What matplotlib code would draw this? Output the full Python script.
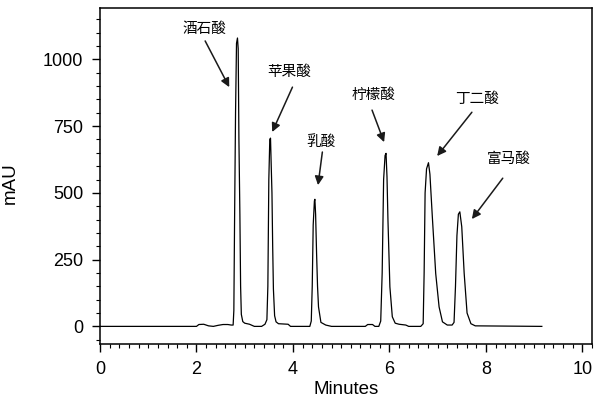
import matplotlib
matplotlib.use("Agg")
import matplotlib.pyplot as plt
from matplotlib.ticker import MultipleLocator

plt.rcParams['font.family'] = ['Liberation Sans', 'Noto Sans CJK SC', 'DejaVu Sans']

# chromatogram trace (minutes, mAU)
minutes = [0.0, 2.0, 2.05, 2.15, 2.25, 2.35, 2.45, 2.55, 2.65, 2.72,
           2.76, 2.775, 2.79, 2.81, 2.83, 2.85, 2.865, 2.88, 2.90, 2.915, 2.93, 2.96, 3.0,
           3.1, 3.2, 3.35, 3.42,
           3.46, 3.48, 3.50, 3.52, 3.535, 3.55, 3.565, 3.58, 3.595, 3.62, 3.65, 3.7,
           3.9, 3.95, 4.35,
           4.38, 4.40, 4.42, 4.445, 4.455, 4.47, 4.49, 4.51, 4.53, 4.58, 4.68, 4.8,
           5.5, 5.55, 5.65, 5.7, 5.78,
           5.82, 5.85, 5.88, 5.91, 5.93, 5.95, 5.97, 6.01, 6.06, 6.12, 6.2, 6.34, 6.4,
           6.65, 6.70, 6.72, 6.74, 6.77, 6.81, 6.84, 6.89, 6.96, 7.03, 7.10, 7.2, 7.3,
           7.34, 7.37, 7.40, 7.43, 7.46, 7.50, 7.55, 7.61, 7.69, 7.78, 9.16]
signal = [0, 0, 7, 8, 2, 0, 4, 7, 7, 5,
          5, 60, 400, 800, 1060, 1080, 1040, 700, 420, 150, 45, 18, 12,
          8, 0, 0, 8,
          25, 150, 550, 700, 705, 600, 500, 300, 140, 40, 17, 10,
          8, 0, 0,
          20, 150, 380, 470, 476, 420, 274, 150, 73, 15, 5, 0,
          0, 7, 7, 0, 0,
          20, 200, 550, 640, 648, 560, 398, 148, 36, 12, 8, 5, 0,
          0, 10, 200, 500, 590, 613, 570, 410, 198, 73, 17, 5, 5,
          15, 150, 340, 420, 429, 373, 199, 50, 10, 2, 0]

# peak labels: name, text position, arrow tail, arrow head
names = ['酒石酸', '苹果酸', '乳酸', '柠檬酸', '丁二酸', '富马酸']
text_xy = [(2.16, 1113), (3.92, 952), (4.59, 690), (5.66, 866), (7.82, 851), (8.48, 626)]
tail_xy = [(2.18, 1069), (3.99, 896), (4.61, 653), (5.64, 810), (7.71, 802), (8.35, 555)]
head_xy = [(2.68, 896), (3.57, 728), (4.52, 529), (5.89, 690), (6.99, 638), (7.71, 402)]

fig = plt.figure(figsize=(6.01, 4.05), dpi=100)
ax = fig.add_axes([0.1664, 0.1506, 0.8186, 0.8294])

ax.plot(minutes, signal, color='black', lw=0.9)

for name, txy, t0, h in zip(names, text_xy, tail_xy, head_xy):
    ax.text(txy[0], txy[1], name, ha='center', va='center', fontsize=10.5,
            family=['Noto Sans CJK SC', 'DejaVu Sans'])
    ax.annotate('', xy=h, xytext=t0,
                arrowprops=dict(arrowstyle='-|>', color='#1a1a1a', lw=1.1,
                                mutation_scale=13, shrinkA=0, shrinkB=0))

ax.set_xlim(0, 10.2)
ax.set_ylim(-66, 1192)
ax.xaxis.set_major_locator(MultipleLocator(2))
ax.xaxis.set_minor_locator(MultipleLocator(0.2))
ax.yaxis.set_major_locator(MultipleLocator(250))
ax.yaxis.set_minor_locator(MultipleLocator(50))
ax.tick_params(which='major', length=6, width=1, labelsize=13, pad=6)
ax.tick_params(which='minor', length=3, width=0.8)
for s in ax.spines.values():
    s.set_linewidth(1.1)

ax.set_xlabel('Minutes', fontsize=13.5)
ax.xaxis.set_label_coords(0.5, -0.11)
ax.set_ylabel('mAU', fontsize=13.5)
ax.yaxis.set_label_coords(-0.165, 0.48)

fig.savefig('out.png', dpi=100)
